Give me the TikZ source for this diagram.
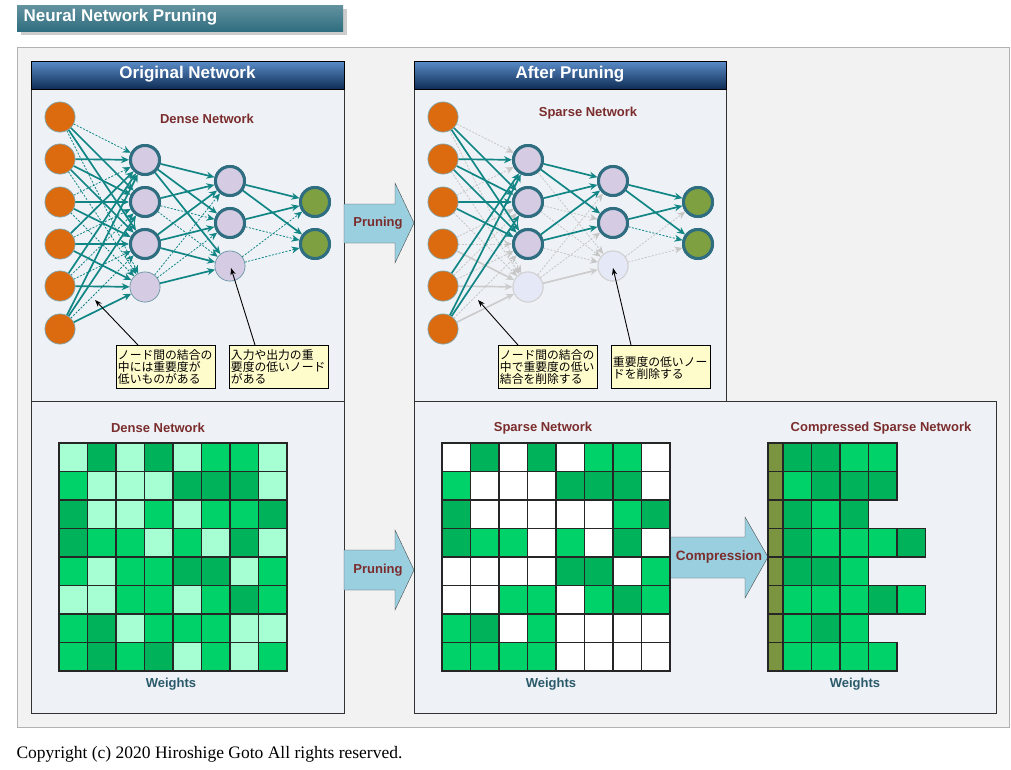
\documentclass[tikz,border=0pt]{standalone}
\usepackage{fontspec}
\setmainfont{Liberation Sans}
\newfontfamily\jp{Noto Sans CJK JP}
\newfontfamily\ser{Liberation Serif}
\usetikzlibrary{arrows.meta}
\definecolor{cL}{HTML}{A6FFD2}
\definecolor{cM}{HTML}{00D26A}
\definecolor{cD}{HTML}{00B25A}
\definecolor{cW}{HTML}{FFFFFF}
\definecolor{olive}{HTML}{7A9440}
\definecolor{teal2}{HTML}{128585}
\definecolor{ring}{HTML}{2F6E80}
\definecolor{dred}{HTML}{7B2D2D}
\definecolor{wtxt}{HTML}{2A5A6A}
\definecolor{panel}{HTML}{EEF2F7}
\definecolor{orng}{HTML}{DC6A0E}
\definecolor{lilac}{HTML}{D5CCE3}
\definecolor{outg}{HTML}{7FA040}
\definecolor{arr}{HTML}{9ACFE0}
\definecolor{hdtop}{HTML}{5A8CC8}
\definecolor{hdbot}{HTML}{0F2D55}
\tikzset{
 inp/.style={circle,fill=orng,draw=ring!60,line width=0.6pt,minimum size=30pt,inner sep=0},
 hid/.style={circle,fill=lilac,draw=ring,line width=3pt,minimum size=29pt,inner sep=0},
 hidw/.style={circle,fill=lilac,draw=ring!70,line width=0.6pt,minimum size=30pt,inner sep=0},
 hidg/.style={circle,fill=blue!4!panel,draw=gray!35,line width=1pt,minimum size=30pt,inner sep=0},
 outn/.style={circle,fill=outg,draw=ring,line width=3pt,minimum size=29pt,inner sep=0},
 es/.style={draw=teal2,line width=1.7pt,-{Stealth[length=8pt,width=7pt]}},
 ed/.style={draw=teal2,line width=0.8pt,dashed,dash pattern=on 2pt off 1.5pt,-{Stealth[length=8pt,width=7pt]}},
 eg/.style={draw=gray!45,line width=0.8pt,dashed,dash pattern=on 2pt off 1.5pt,-{Stealth[length=8pt,width=7pt]}},
 eG/.style={draw=gray!40,line width=1.7pt,-{Stealth[length=8pt,width=7pt]}},
 lab/.style={font=\bfseries\fontsize{13}{15}\selectfont,text=dred},
 wl/.style={font=\bfseries\fontsize{13}{15}\selectfont,text=wtxt},
 note/.style={draw=black,line width=0.9pt,fill=yellow!20,minimum width=99pt,minimum height=43pt,anchor=north west,inner sep=1.5pt,align=left,font=\jp\fontsize{11.8}{12}\selectfont,text width=96pt},
 htxt/.style={font=\bfseries\fontsize{17}{19}\selectfont,text=white},
}
\begin{document}
\begin{tikzpicture}[x=1pt,y=-1pt]
\useasboundingbox (0,0) rectangle (1011,769);
\fill[white] (0,0) rectangle (1011,769);
% title
\fill[gray!40] (21,9) rectangle (347,35);
\shade[top color=ring!75,bottom color=ring] (17,5) rectangle (343,31);
\node[anchor=west,font=\bfseries\fontsize{17}{19}\selectfont,text=white] (title) at (20,17) {Neural Network Pruning};
% outer panel
\draw[gray!60,fill=black!5] (17,47) rectangle (1009,727);
% panels
\draw[black!80,line width=0.9pt,fill=panel] (31,61) rectangle (344,713);
\draw[black!80,line width=0.9pt] (31,401) -- (344,401);
\draw[black!80,line width=0.9pt,fill=panel] (414,61) rectangle (726,401);
\draw[black!80,line width=0.9pt,fill=panel] (414,401) rectangle (996,713);
\shade[top color=hdtop,bottom color=hdbot] (31,61) rectangle (344,89);
\draw[black,line width=0.8pt] (31,61) rectangle (344,89);
\shade[top color=hdtop,bottom color=hdbot] (414,61) rectangle (726,89);
\draw[black,line width=0.8pt] (414,61) rectangle (726,89);
\node[htxt] (h1) at (187.5,74) {Original Network};
\node[htxt] (h2) at (570,74) {After Pruning};
% arrows
\draw[gray!60!black,fill=arr] (344,204) -- (395,204) -- (395,183) -- (414,223) -- (395,263) -- (395,243) -- (344,243) -- cycle;
\node[lab] (p1) at (378,223) {Pruning};
\draw[gray!60!black,fill=arr] (344,550) -- (395,550) -- (395,530) -- (414,570) -- (395,610) -- (395,590) -- (344,590) -- cycle;
\node[lab] (p2) at (378,570) {Pruning};
\draw[gray!60!black,fill=arr] (670,537) -- (745,537) -- (745,517) -- (768,557) -- (745,598) -- (745,578) -- (670,578) -- cycle;
\node[lab,font=\bfseries\fontsize{13.5}{15}\selectfont] (p3) at (719,557) {Compression};
% ===== networks
\foreach \ox/\pre in {0/d,383/s}{
 \foreach \y [count=\i] in {117,159,202,244,286,329} \node[inp] (\pre i\i) at (60+\ox,\y) {};
 \foreach \y [count=\i] in {160,202,244} \node[hid] (\pre a\i) at (145+\ox,\y) {};
 \foreach \y [count=\i] in {181,223} \node[hid] (\pre b\i) at (230+\ox,\y) {};
 \foreach \y [count=\i] in {202,244} \node[outn] (\pre o\i) at (315+\ox,\y) {};
}
\node[hidw] (da4) at (145,287) {};
\node[hidw] (db3) at (230,266) {};
\node[hidg] (sa4) at (528,287) {};
\node[hidg] (sb3) at (613,266) {};
% dense edges
\foreach \a/\b/\t in {1/1/ed,1/2/es,1/3/es,1/4/ed,2/1/es,2/2/es,2/3/es,2/4/ed,3/1/ed,3/2/es,3/3/es,3/4/ed,4/1/es,4/2/ed,4/3/es,4/4/es,5/1/es,5/2/ed,5/3/ed,5/4/es,6/1/es,6/2/es,6/3/ed,6/4/es}
 \draw[\t] (di\a) -- (da\b);
\foreach \a/\b/\t in {1/1/es,1/2/es,1/3/es,2/1/es,2/2/ed,2/3/ed,3/1/es,3/2/es,3/3/es,4/1/ed,4/2/ed,4/3/es}
 \draw[\t] (da\a) -- (db\b);
\foreach \a/\b/\t in {1/1/es,1/2/es,2/1/es,2/2/ed,3/1/ed,3/2/ed}
 \draw[\t] (db\a) -- (do\b);
% sparse edges
\foreach \a/\b/\t in {1/1/eg,1/2/eg,1/4/eg,2/4/eg,3/1/eg,3/4/eg,4/2/eg,4/4/eG,5/2/eg,5/4/eG,6/3/eg,6/4/eG,4/3/eg,5/3/eg}
 \draw[\t] (si\a) -- (sa\b);
\foreach \a/\b/\t in {1/2/eg,2/2/eg,2/3/eg,3/3/eg,4/1/eg,4/2/eg,4/3/eG,1/3/eg}
 \draw[\t] (sa\a) -- (sb\b);
\foreach \a/\b/\t in {3/1/eg,3/2/eg}
 \draw[\t] (sb\a) -- (so\b);
\foreach \a/\b in {1/3,2/1,2/2,2/3,3/2,3/3,5/1,6/1,6/2,1/2}
 \draw[es] (si\a) -- (sa\b);
\foreach \a/\b in {1/1,2/1,3/1,3/2,1/2}
 \draw[es] (sa\a) -- (sb\b);
\foreach \a/\b/\t in {1/1/es,1/2/es,2/1/es,2/2/ed}
 \draw[\t] (sb\a) -- (so\b);
% redraw nodes on top
\foreach \pre in {d,s}{
 \foreach \i in {1,...,6} \node[inp] at (\pre i\i) {};
 \foreach \i in {1,2,3} \node[hid] at (\pre a\i) {};
 \foreach \i in {1,2} \node[hid] at (\pre b\i) {};
 \foreach \i in {1,2} \node[outn] at (\pre o\i) {};
}
\node[hidw] at (da4) {}; \node[hidw] at (db3) {};
\node[hidg] at (sa4) {}; \node[hidg] at (sb3) {};
% labels
\node[lab] (l1) at (207,119) {Dense Network};
\node[lab] (l2) at (588,113) {Sparse Network};
\node[lab] (l3) at (158,428) {Dense Network};
\node[lab] (l4) at (543,428) {Sparse Network};
\node[lab] (l5) at (881,428) {Compressed Sparse Network};
\node[wl] (w1) at (171,684) {Weights};
\node[wl] (w2) at (551,684) {Weights};
\node[wl] (w3) at (855,684) {Weights};
% notes
\node[note] (n1) at (116,345) {ノード間の結合の\\中には重要度が\\低いものがある};
\node[note] (n2) at (229,345) {入力や出力の重\\要度の低いノード\\がある};
\node[note] (n3) at (498,345) {ノード間の結合の\\中で重要度の低い\\結合を削除する};
\node[note] (n4) at (611,345) {\\重要度の低いノー\\ドを削除する};
\coordinate (t1) at (95,300); \coordinate (t2) at (231,268);
\coordinate (t3) at (478,300); \coordinate (t4) at (613,268);
\draw[-{Stealth[length=7pt]},line width=0.9pt] (n1.north west)++(22,0) -- (t1);
\draw[-{Stealth[length=7pt]},line width=0.9pt] (n2.north west)++(26,0) -- (t2);
\draw[-{Stealth[length=7pt]},line width=0.9pt] (n3.north west)++(20,0) -- (t3);
\draw[-{Stealth[length=7pt]},line width=0.9pt] (n4.north west)++(20,0) -- (t4);
% matrices
\def\cs{28.5}
\foreach \row [count=\r] in {{L,D,L,D,L,M,M,L},{M,L,L,L,D,D,D,L},{D,L,L,M,L,M,M,D},{D,M,M,L,M,L,D,L},{M,L,M,M,D,D,L,M},{L,L,M,M,L,M,D,M},{M,D,L,M,M,M,L,L},{M,D,M,D,L,M,L,M}}
 \foreach \c [count=\k] in \row
  \draw[fill=c\c,draw=black!85,line width=1.1pt] ({59+(\k-1)*\cs},{443+(\r-1)*\cs}) rectangle ++(\cs,\cs);
\foreach \row [count=\r] in {{W,D,W,D,W,M,M,W},{M,W,W,W,D,D,D,W},{D,W,W,W,W,W,M,D},{D,M,M,W,M,W,D,W},{W,W,W,W,D,D,W,M},{W,W,M,M,W,M,D,M},{M,D,W,M,W,W,W,W},{M,M,M,M,W,W,W,W}}
 \foreach \c [count=\k] in \row
  \draw[fill=c\c,draw=black!85,line width=1.1pt] ({442+(\k-1)*\cs},{443+(\r-1)*\cs}) rectangle ++(\cs,\cs);
\foreach \row [count=\r] in {{D,D,M,M},{M,D,D,D},{D,M,D},{D,M,M,M,D},{D,D,M},{M,M,M,D,M},{M,D,M},{M,M,M,M}}{
 \draw[fill=olive,draw=black!85,line width=1.1pt] (768,{443+(\r-1)*\cs}) rectangle ++(15,\cs);
 \foreach \c [count=\k] in \row
  \draw[fill=c\c,draw=black!85,line width=1.1pt] ({783+(\k-1)*\cs},{443+(\r-1)*\cs}) rectangle ++(\cs,\cs);
}
\node[anchor=west,font=\ser\fontsize{17.5}{19}\selectfont] (cp) at (13,754) {Copyright (c) 2020 Hiroshige Goto All rights reserved.};
\end{tikzpicture}
\end{document}
